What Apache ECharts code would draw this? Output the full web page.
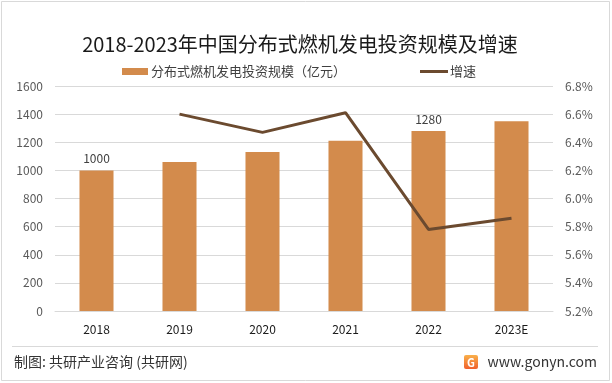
<!DOCTYPE html>
<html>
<head>
<meta charset="utf-8">
<script src="https://cdn.jsdelivr.net/npm/echarts@6/dist/echarts.min.js"></script>
<style>
html,body{margin:0;padding:0;background:#fff;}
#chart{width:612px;height:383px;}
</style>
</head>
<body>
<div id="chart"></div>
<script>
const categories = ['2018', '2019', '2020', '2021', '2022', '2023E'];
const investment = [1000, 1060, 1130, 1210, 1280, 1350];
const growth = [null, 6.60, 6.47, 6.61, 5.78, 5.86];
const labeledYears = ['2018', '2022'];
const leftTicks = { min: 0, max: 1600, interval: 200 };
const rightTicks = { min: 5.2, max: 6.8, interval: 0.2 };

const FONT = '"Noto Sans CJK SC", "Noto Sans", sans-serif';
const chart = echarts.init(document.getElementById('chart'), null, { renderer: 'canvas' });

chart.setOption({
  backgroundColor: '#ffffff',
  animation: false,
  textStyle: { fontFamily: FONT },
  title: {
    text: '2018-2023年中国分布式燃机发电投资规模及增速',
    left: 295,
    textAlign: 'center',
    top: 29,
    textStyle: { fontFamily: FONT, fontSize: 20, fontWeight: 'normal', color: '#1a1a1a' }
  },
  legend: [
    {
      left: 117, top: 60,
      icon: 'rect', itemWidth: 26, itemHeight: 7, itemGap: 5,
      data: ['分布式燃机发电投资规模（亿元）'],
      textStyle: { fontFamily: FONT, fontSize: 13, color: '#404040', padding: [0, 0, 0, -2] }
    },
    {
      left: 415, top: 60,
      icon: 'rect', itemWidth: 28, itemHeight: 3,
      data: ['增速'],
      textStyle: { fontFamily: FONT, fontSize: 13, color: '#404040', padding: [0, 0, 0, -3] }
    }
  ],
  grid: { left: 55, right: 59, top: 86, bottom: 72, containLabel: false },
  xAxis: {
    type: 'category',
    data: categories,
    axisLine: { show: true, lineStyle: { color: '#d9d9d9', width: 1 } },
    axisTick: { show: false },
    axisLabel: { color: '#1a1a1a', fontSize: 12, fontFamily: FONT, margin: 12 }
  },
  yAxis: [
    {
      type: 'value',
      min: leftTicks.min, max: leftTicks.max, interval: leftTicks.interval,
      axisLine: { show: false }, axisTick: { show: false },
      axisLabel: { color: '#595959', fontSize: 12, fontFamily: FONT, margin: 12, formatter: v => String(v) },
      splitLine: { lineStyle: { color: '#d9d9d9', width: 1 } }
    },
    {
      type: 'value',
      min: rightTicks.min, max: rightTicks.max, interval: rightTicks.interval,
      axisLine: { show: false }, axisTick: { show: false },
      axisLabel: {
        color: '#595959', fontSize: 12, fontFamily: FONT, margin: 12,
        formatter: v => v.toFixed(1) + '%'
      },
      splitLine: { show: false }
    }
  ],
  series: [
    {
      name: '分布式燃机发电投资规模（亿元）',
      type: 'bar',
      data: investment,
      barWidth: '41%',
      itemStyle: { color: '#D38B4C' },
      label: {
        show: true, position: 'top', distance: 6,
        color: '#404040', fontSize: 12, fontFamily: FONT,
        formatter: p => labeledYears.includes(p.name) ? String(p.value) : ''
      }
    },
    {
      name: '增速',
      type: 'line',
      yAxisIndex: 1,
      data: growth,
      showSymbol: false,
      symbol: 'none',
      connectNulls: false,
      lineStyle: { color: '#6B4A2F', width: 3 },
      itemStyle: { color: '#6B4A2F' }
    }
  ],
  graphic: [
    {
      type: 'rect', silent: true,
      shape: { x: 1.5, y: 1.5, width: 608, height: 379 },
      style: { fill: 'none', stroke: '#d9d9d9', lineWidth: 1 }
    },
    {
      type: 'line', silent: true,
      shape: { x1: 12, y1: 346.5, x2: 598, y2: 346.5 },
      style: { stroke: '#d9d9d9', lineWidth: 1 }
    },
    {
      type: 'text', silent: true,
      x: 14, y: 362,
      style: { text: '制图: 共研产业咨询 (共研网)', font: '14px ' + FONT, fill: '#333333', textVerticalAlign: 'middle' }
    },
    {
      type: 'rect', silent: true,
      shape: { x: 464, y: 355, width: 14, height: 14, r: 2 },
      style: {
        fill: new echarts.graphic.LinearGradient(0, 0, 0, 1, [
          { offset: 0, color: '#F9B04A' }, { offset: 1, color: '#F0602C' }
        ])
      }
    },
    {
      type: 'text', silent: true,
      x: 471, y: 362.5,
      style: { text: 'G', font: 'bold 11px ' + FONT, fill: '#ffffff', textAlign: 'center', textVerticalAlign: 'middle' }
    },
    {
      type: 'text', silent: true,
      x: 597, y: 362,
      style: { text: 'www.gonyn.com', font: '14px ' + FONT, fill: '#333333', textAlign: 'right', textVerticalAlign: 'middle' }
    }
  ]
});
</script>
</body>
</html>
